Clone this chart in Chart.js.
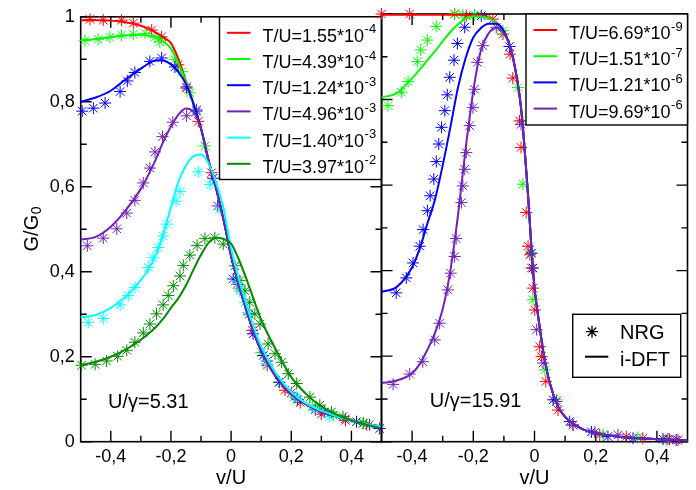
<!DOCTYPE html>
<html>
<head>
<meta charset="utf-8">
<script src="https://cdn.jsdelivr.net/npm/chart.js@4.4.1/dist/chart.umd.min.js"></script>
<style>
  html, body { margin: 0; padding: 0; background: #ffffff; }
  #wrap { position: relative; width: 696px; height: 490px; }
  #wrap canvas { position: absolute; left: 0; top: 0; }
</style>
</head>
<body>
<div id="wrap">
  <canvas id="leftPanel" width="696" height="490"></canvas>
  <canvas id="rightPanel" width="696" height="490"></canvas>
</div>
<script>
// ---------- tick values ----------
const xLabelValues = [-0.4, -0.2, 0, 0.2, 0.4];
const xMinorValues = [-0.3, -0.1, 0.1, 0.3];
const yLabelValues = [0, 0.2, 0.4, 0.6, 0.8, 1];
const yMinorValues = [0.1, 0.3, 0.5, 0.7, 0.9];

// ---------- left panel: U/gamma = 5.31 ----------
const leftTitle = 'U/\u03b3=5.31';
const leftMantissa = ['1.55', '4.39', '1.24', '4.96', '1.40', '3.97'];
const leftExponent = ['-4', '-4', '-3', '-3', '-3', '-2'];
const leftColors = ['#ff0000', '#00ff00', '#0000ff', '#7221bc', '#00ffff', '#008b00'];

// i-DFT curves, sampled on a shared v/U grid
const leftGridX = [-0.5, -0.45, -0.4, -0.35, -0.3, -0.275, -0.25, -0.225, -0.2, -0.175, -0.15, -0.125, -0.1, -0.075, -0.05, -0.025, 0, 0.025, 0.05, 0.075, 0.1, 0.15, 0.2, 0.25, 0.3, 0.35, 0.4, 0.45, 0.5];
const leftDftRed    = [0.992, 0.992, 0.991, 0.987, 0.979, 0.972, 0.963, 0.952, 0.938, 0.9, 0.848, 0.795, 0.737, 0.662, 0.597, 0.522, 0.437, 0.37, 0.312, 0.257, 0.214, 0.152, 0.112, 0.088, 0.071, 0.059, 0.05, 0.042, 0.035];
const leftDftGreen  = [0.945, 0.948, 0.952, 0.956, 0.958, 0.956, 0.953, 0.942, 0.925, 0.89, 0.847, 0.795, 0.737, 0.662, 0.597, 0.522, 0.437, 0.37, 0.312, 0.257, 0.214, 0.152, 0.112, 0.088, 0.071, 0.059, 0.05, 0.042, 0.035];
const leftDftBlue   = [0.8, 0.81, 0.826, 0.853, 0.878, 0.89, 0.898, 0.897, 0.888, 0.87, 0.842, 0.795, 0.737, 0.662, 0.597, 0.522, 0.437, 0.37, 0.312, 0.257, 0.214, 0.152, 0.112, 0.088, 0.071, 0.059, 0.05, 0.042, 0.035];
const leftDftPurple = [0.476, 0.482, 0.506, 0.545, 0.595, 0.628, 0.665, 0.707, 0.742, 0.77, 0.784, 0.776, 0.737, 0.662, 0.597, 0.522, 0.437, 0.37, 0.312, 0.257, 0.214, 0.152, 0.112, 0.088, 0.071, 0.059, 0.05, 0.042, 0.035];
const leftDftCyan   = [0.293, 0.298, 0.315, 0.342, 0.38, 0.405, 0.44, 0.49, 0.552, 0.612, 0.65, 0.672, 0.676, 0.655, 0.61, 0.548, 0.455, 0.385, 0.325, 0.27, 0.225, 0.16, 0.117, 0.09, 0.073, 0.06, 0.05, 0.042, 0.035];
const leftDftDark   = [0.18, 0.188, 0.2, 0.217, 0.24, 0.254, 0.27, 0.29, 0.315, 0.338, 0.368, 0.405, 0.44, 0.468, 0.48, 0.477, 0.466, 0.43, 0.385, 0.335, 0.287, 0.215, 0.152, 0.112, 0.083, 0.064, 0.05, 0.04, 0.031];

// NRG points
const leftNrgRedX    = [-0.469, -0.425, -0.364, -0.325, -0.264, -0.231, -0.176, -0.148, -0.109, -0.065, 0.02, 0.07, 0.12, 0.179, 0.23, 0.3, 0.38, 0.45];
const leftNrgRedY    = [0.994, 0.992, 0.992, 0.985, 0.969, 0.953, 0.887, 0.832, 0.754, 0.633, 0.38, 0.262, 0.18, 0.121, 0.092, 0.065, 0.05, 0.04];
const leftNrgGreenX  = [-0.486, -0.442, -0.403, -0.364, -0.325, -0.286, -0.253, -0.237, -0.187, -0.164, -0.137, -0.087, 0.03, 0.1, 0.16, 0.21, 0.27, 0.34, 0.44];
const leftNrgGreenY  = [0.944, 0.947, 0.952, 0.957, 0.959, 0.961, 0.952, 0.941, 0.899, 0.871, 0.821, 0.696, 0.36, 0.21, 0.14, 0.105, 0.082, 0.062, 0.044];
const leftNrgBlueX   = [-0.495, -0.458, -0.419, -0.369, -0.345, -0.32, -0.27, -0.231, -0.187, -0.148, -0.115, -0.06, 0.007, 0.073, 0.107, 0.16, 0.22, 0.31, 0.417, 0.494];
const leftNrgBlueY   = [0.778, 0.785, 0.797, 0.824, 0.849, 0.869, 0.895, 0.903, 0.882, 0.835, 0.778, 0.62, 0.383, 0.254, 0.203, 0.14, 0.1, 0.07, 0.047, 0.031];
const leftNrgPurpleX = [-0.478, -0.425, -0.38, -0.347, -0.32, -0.292, -0.27, -0.253, -0.228, -0.194, -0.148, -0.115, -0.045, 0.02, 0.06, 0.12, 0.2, 0.28, 0.38, 0.46];
const leftNrgPurpleY = [0.461, 0.479, 0.501, 0.538, 0.568, 0.609, 0.644, 0.682, 0.718, 0.752, 0.767, 0.781, 0.555, 0.37, 0.3, 0.19, 0.115, 0.075, 0.054, 0.04];
const leftNrgCyanX   = [-0.475, -0.425, -0.369, -0.342, -0.32, -0.275, -0.259, -0.242, -0.226, -0.214, -0.183, -0.17, -0.109, -0.07, -0.037, 0.018, 0.029, 0.046, 0.057, 0.118, 0.218, 0.278, 0.328];
const leftNrgCyanY   = [0.281, 0.29, 0.322, 0.344, 0.363, 0.41, 0.433, 0.457, 0.484, 0.512, 0.566, 0.589, 0.635, 0.605, 0.547, 0.379, 0.355, 0.328, 0.304, 0.184, 0.105, 0.078, 0.059];
const leftNrgDarkX   = [-0.497, -0.452, -0.414, -0.377, -0.347, -0.32, -0.292, -0.27, -0.248, -0.226, -0.209, -0.192, -0.17, -0.159, -0.137, -0.113, -0.087, -0.054, -0.026, 0.013, 0.029, 0.046, 0.062, 0.079, 0.096, 0.123, 0.146, 0.168, 0.19, 0.218, 0.262, 0.295, 0.334, 0.372, 0.439];
const leftNrgDarkY   = [0.18, 0.182, 0.19, 0.201, 0.215, 0.234, 0.256, 0.277, 0.301, 0.322, 0.344, 0.367, 0.39, 0.415, 0.439, 0.462, 0.478, 0.48, 0.465, 0.414, 0.379, 0.355, 0.328, 0.301, 0.277, 0.23, 0.207, 0.187, 0.16, 0.137, 0.105, 0.086, 0.07, 0.059, 0.043];

// ---------- right panel: U/gamma = 15.91 ----------
const rightTitle = 'U/\u03b3=15.91';
const rightMantissa = ['6.69', '1.51', '1.21', '9.69'];
const rightExponent = ['-9', '-7', '-6', '-6'];
const rightColors = ['#ff0000', '#00ff00', '#0000ff', '#7221bc'];

const rightGridX = [-0.5, -0.45, -0.4, -0.375, -0.35, -0.325, -0.3, -0.275, -0.25, -0.225, -0.2, -0.175, -0.15, -0.125, -0.1, -0.075, -0.05, -0.04, -0.03, -0.02, -0.01, 0, 0.01, 0.02, 0.03, 0.05, 0.075, 0.1, 0.15, 0.2, 0.25, 0.3, 0.4, 0.5];
const rightDftRed    = [0.998, 0.998, 0.998, 0.998, 0.998, 0.998, 0.998, 0.998, 0.998, 0.998, 0.998, 0.997, 0.992, 0.98, 0.958, 0.912, 0.815, 0.752, 0.662, 0.565, 0.452, 0.36, 0.303, 0.252, 0.205, 0.137, 0.085, 0.058, 0.032, 0.02, 0.014, 0.01, 0.006, 0.003];
const rightDftGreen  = [0.805, 0.815, 0.85, 0.87, 0.892, 0.913, 0.936, 0.958, 0.976, 0.989, 0.995, 0.994, 0.99, 0.98, 0.958, 0.912, 0.815, 0.752, 0.662, 0.565, 0.452, 0.36, 0.303, 0.252, 0.205, 0.137, 0.085, 0.058, 0.032, 0.02, 0.014, 0.01, 0.006, 0.003];
const rightDftBlue   = [0.35, 0.362, 0.408, 0.452, 0.51, 0.567, 0.646, 0.735, 0.828, 0.897, 0.945, 0.967, 0.977, 0.977, 0.96, 0.912, 0.815, 0.752, 0.662, 0.565, 0.452, 0.36, 0.303, 0.252, 0.205, 0.137, 0.085, 0.058, 0.032, 0.02, 0.014, 0.01, 0.006, 0.003];
const rightDftPurple = [0.137, 0.143, 0.16, 0.182, 0.215, 0.255, 0.31, 0.4, 0.53, 0.685, 0.82, 0.915, 0.955, 0.968, 0.955, 0.912, 0.815, 0.752, 0.662, 0.565, 0.452, 0.36, 0.303, 0.252, 0.205, 0.137, 0.085, 0.058, 0.032, 0.02, 0.014, 0.01, 0.006, 0.003];

const rightNrgRedX    = [-0.5, -0.408, -0.261, -0.223, -0.136, -0.103, -0.08, -0.071, -0.049, -0.044, -0.027, -0.021, -0.015, -0.01, -0.005, 0.001, 0.017, 0.023, 0.037, 0.077, 0.126, 0.213, 0.3, 0.354, 0.436, 0.469];
const rightNrgRedY    = [1.0, 1.0, 1.0, 0.996, 0.988, 0.953, 0.906, 0.85, 0.75, 0.688, 0.536, 0.457, 0.437, 0.406, 0.359, 0.308, 0.222, 0.199, 0.141, 0.074, 0.039, 0.016, 0.012, 0.008, 0.006, 0.004];
const rightNrgGreenX  = [-0.479, -0.435, -0.413, -0.383, -0.372, -0.35, -0.321, -0.261, -0.234, -0.196, -0.103, -0.054, -0.038, -0.01, -0.005, 0.034, 0.072, 0.224, 0.338, 0.43];
const rightNrgGreenY  = [0.786, 0.817, 0.842, 0.889, 0.916, 0.939, 0.971, 1.0, 0.998, 0.998, 0.961, 0.828, 0.602, 0.44, 0.332, 0.168, 0.098, 0.016, 0.01, 0.005];
const rightNrgBlueX   = [-0.452, -0.419, -0.397, -0.375, -0.364, -0.35, -0.341, -0.329, -0.321, -0.313, -0.304, -0.293, -0.285, -0.277, -0.263, -0.252, -0.228, -0.174, -0.082, -0.01, -0.005, 0.061, 0.115, 0.186, 0.24, 0.322, 0.42, 0.463];
const rightNrgBlueY   = [0.348, 0.383, 0.418, 0.457, 0.496, 0.54, 0.575, 0.614, 0.655, 0.696, 0.735, 0.774, 0.811, 0.852, 0.892, 0.931, 0.969, 0.996, 0.924, 0.441, 0.406, 0.098, 0.047, 0.023, 0.012, 0.008, 0.006, 0.004];
const rightNrgPurpleX = [-0.462, -0.408, -0.365, -0.326, -0.31, -0.283, -0.274, -0.261, -0.256, -0.239, -0.234, -0.228, -0.223, -0.212, -0.201, -0.196, -0.187, -0.169, -0.125, -0.044, 0.007, 0.028, 0.072, 0.126, 0.197, 0.273, 0.441];
const rightNrgPurpleY = [0.134, 0.158, 0.187, 0.238, 0.277, 0.355, 0.394, 0.433, 0.475, 0.559, 0.598, 0.637, 0.676, 0.739, 0.781, 0.824, 0.887, 0.926, 0.969, 0.742, 0.262, 0.184, 0.094, 0.039, 0.022, 0.016, 0.006];

// ---------- helpers ----------
const FONT = '"Liberation Sans", Arial, Helvetica, sans-serif';
Chart.defaults.font.family = FONT;
Chart.defaults.color = '#000';

function fmtTick(v) {
  if (Math.abs(v) < 1e-9) return '0';
  if (Math.abs(v - 1) < 1e-9) return '1';
  return v.toFixed(1).replace('.', ',');
}

function toPoints(xs, ys) {
  return xs.map((x, i) => ({ x: x, y: ys[i] }));
}

// Chart.js paints datasets from the last index to the first, so the list is
// assembled back to front: symbols underneath, curves above, later series on top.
function buildDatasets(colors, gridX, curves, nrgX, nrgY) {
  const symbols = nrgX.map((xs, i) => ({
    data: toPoints(xs, nrgY[i]),
    showLine: false,
    pointStyle: 'star',
    pointRadius: 6,
    pointHoverRadius: 6,
    pointBorderWidth: 1.0,
    borderColor: colors[i],
    backgroundColor: colors[i],
    clip: false
  }));
  const lines = curves.map((ys, i) => ({
    data: toPoints(gridX, ys),
    showLine: true,
    pointRadius: 0,
    pointHoverRadius: 0,
    borderColor: colors[i],
    borderWidth: 2,
    cubicInterpolationMode: 'monotone',
    fill: false
  }));
  return lines.slice().reverse().concat(symbols.slice().reverse());
}

function drawStar(ctx, x, y, r, color, width) {
  ctx.save();
  ctx.strokeStyle = color;
  ctx.lineWidth = width;
  ctx.beginPath();
  for (let k = 0; k < 4; k++) {
    const a = k * Math.PI / 4;
    ctx.moveTo(x - r * Math.cos(a), y - r * Math.sin(a));
    ctx.lineTo(x + r * Math.cos(a), y + r * Math.sin(a));
  }
  ctx.stroke();
  ctx.restore();
}

// frame plus inward ticks on all four sides
const frameTicks = {
  id: 'frameTicks',
  beforeDatasetsDraw(chart) {
    const { ctx, chartArea: a, scales } = chart;
    const sx = scales.x, sy = scales.y;
    const major = 11, minor = 6;
    ctx.save();
    ctx.strokeStyle = '#000';
    ctx.lineWidth = 1.4;
    ctx.beginPath();
    const vx = (vals, len) => vals.forEach(v => {
      const p = sx.getPixelForValue(v);
      ctx.moveTo(p, a.bottom); ctx.lineTo(p, a.bottom - len);
      ctx.moveTo(p, a.top); ctx.lineTo(p, a.top + len);
    });
    const vy = (vals, len) => vals.forEach(v => {
      const p = sy.getPixelForValue(v);
      ctx.moveTo(a.left, p); ctx.lineTo(a.left + len, p);
      ctx.moveTo(a.right, p); ctx.lineTo(a.right - len, p);
    });
    vx(xLabelValues, major); vx(xMinorValues, minor);
    vy(yLabelValues, major); vy(yMinorValues, minor);
    ctx.stroke();
    ctx.lineWidth = 1.6;
    ctx.strokeRect(a.left, a.top, a.right - a.left, a.bottom - a.top);
    ctx.restore();
  }
};

function drawSeriesLegend(ctx, box, colors, mantissa, exponent) {
  ctx.save();
  ctx.fillStyle = '#fff';
  ctx.fillRect(box.x, box.y, box.w, box.h);
  ctx.strokeStyle = '#000';
  ctx.lineWidth = 1.4;
  ctx.strokeRect(box.x, box.y, box.w, box.h);
  colors.forEach((c, i) => {
    const ly = box.y + 16 + i * 26.2;
    ctx.strokeStyle = c;
    ctx.lineWidth = 2;
    ctx.beginPath();
    ctx.moveTo(box.x + 7.5, ly);
    ctx.lineTo(box.x + 31, ly);
    ctx.stroke();
    const main = 'T/U=' + mantissa[i] + '*10';
    ctx.fillStyle = '#000';
    ctx.textBaseline = 'alphabetic';
    ctx.textAlign = 'left';
    ctx.font = '18px ' + FONT;
    ctx.fillText(main, box.x + 43, ly + 9);
    const w = ctx.measureText(main).width;
    ctx.font = '13px ' + FONT;
    ctx.fillText(exponent[i], box.x + 43 + w + 0.5, ly + 0.5);
  });
  ctx.restore();
}

function drawLabel(ctx, text, x, y) {
  ctx.save();
  ctx.fillStyle = '#000';
  ctx.font = '20px ' + FONT;
  ctx.textBaseline = 'alphabetic';
  ctx.textAlign = 'left';
  ctx.fillText(text, x, y);
  ctx.restore();
}

const leftDecor = {
  id: 'leftDecor',
  afterDatasetsDraw(chart) {
    const ctx = chart.ctx, a = chart.chartArea;
    drawSeriesLegend(ctx, { x: 219.5, y: a.top, w: a.right - 219.5, h: 162.7 },
      leftColors, leftMantissa, leftExponent);
    drawLabel(ctx, leftTitle, 108, 407.5);
    // y axis title G/G0
    ctx.save();
    ctx.fillStyle = '#000';
    ctx.translate(38, (a.top + a.bottom) / 2);
    ctx.rotate(-Math.PI / 2);
    ctx.font = '20px ' + FONT;
    const main = 'G/G';
    const w1 = ctx.measureText(main).width;
    ctx.font = '14px ' + FONT;
    const w2 = ctx.measureText('0').width;
    const x0 = -(w1 + w2) / 2;
    ctx.textBaseline = 'alphabetic';
    ctx.textAlign = 'left';
    ctx.font = '20px ' + FONT;
    ctx.fillText(main, x0, 0);
    ctx.font = '14px ' + FONT;
    ctx.fillText('0', x0 + w1 + 0.5, 3);
    ctx.restore();
  }
};

const rightDecor = {
  id: 'rightDecor',
  afterDatasetsDraw(chart) {
    const ctx = chart.ctx, a = chart.chartArea;
    drawSeriesLegend(ctx, { x: 526, y: a.top, w: a.right - 526, h: 111 },
      rightColors, rightMantissa, rightExponent);
    drawLabel(ctx, rightTitle, 429.7, 407);
    // method key
    ctx.save();
    ctx.fillStyle = '#fff';
    ctx.fillRect(572.7, 314.3, 108, 63);
    ctx.strokeStyle = '#000';
    ctx.lineWidth = 1.4;
    ctx.strokeRect(572.7, 314.3, 108, 63);
    ctx.restore();
    drawStar(ctx, 592, 331.7, 6, '#000', 1.3);
    ctx.save();
    ctx.strokeStyle = '#000';
    ctx.lineWidth = 2;
    ctx.beginPath();
    ctx.moveTo(585, 356.7);
    ctx.lineTo(608.3, 356.7);
    ctx.stroke();
    ctx.restore();
    drawLabel(ctx, 'NRG', 620, 338.5);
    drawLabel(ctx, 'i-DFT', 620, 366.3);
  }
};

function makeScales(showY, yWidth, xHeight) {
  return {
    x: {
      type: 'linear', min: -0.5, max: 0.5,
      afterBuildTicks: s => { s.ticks = xLabelValues.map(v => ({ value: v })); },
      afterFit: s => { s.height = xHeight; },
      grid: { display: false, drawTicks: false },
      border: { display: false },
      ticks: { font: { size: 18 }, color: '#000', padding: 5, maxRotation: 0, autoSkip: false,
               callback: v => fmtTick(v) },
      title: { display: true, text: 'v/U', font: { size: 20 }, color: '#000', padding: { top: 0, bottom: 0 } }
    },
    y: {
      type: 'linear', min: 0, max: 1,
      afterBuildTicks: s => { s.ticks = yLabelValues.map(v => ({ value: v })); },
      afterFit: s => { s.width = yWidth; },
      grid: { display: false, drawTicks: false },
      border: { display: false },
      ticks: { display: showY, font: { size: 18 }, color: '#000', padding: 6, autoSkip: false,
               callback: v => fmtTick(v) }
    }
  };
}

function makeChart(id, datasets, padding, showY, yWidth, plugins) {
  return new Chart(document.getElementById(id), {
    type: 'scatter',
    data: { datasets: datasets },
    options: {
      responsive: false,
      animation: false,
      devicePixelRatio: 1,
      events: [],
      layout: { padding: padding },
      plugins: { legend: { display: false }, tooltip: { enabled: false } },
      scales: makeScales(showY, yWidth, 490 - 441.7)
    },
    plugins: plugins
  });
}

makeChart('leftPanel',
  buildDatasets(leftColors, leftGridX,
    [leftDftRed, leftDftGreen, leftDftBlue, leftDftPurple, leftDftCyan, leftDftDark],
    [leftNrgRedX, leftNrgGreenX, leftNrgBlueX, leftNrgPurpleX, leftNrgCyanX, leftNrgDarkX],
    [leftNrgRedY, leftNrgGreenY, leftNrgBlueY, leftNrgPurpleY, leftNrgCyanY, leftNrgDarkY]),
  { left: 0, right: 696 - 381.5, top: 14, bottom: 0 }, true, 80.7, [frameTicks, leftDecor]);

makeChart('rightPanel',
  buildDatasets(rightColors, rightGridX,
    [rightDftRed, rightDftGreen, rightDftBlue, rightDftPurple],
    [rightNrgRedX, rightNrgGreenX, rightNrgBlueX, rightNrgPurpleX],
    [rightNrgRedY, rightNrgGreenY, rightNrgBlueY, rightNrgPurpleY]),
  { left: 381.5, right: 696 - 687.5, top: 14, bottom: 0 }, false, 0, [frameTicks, rightDecor]);
</script>
</body>
</html>
